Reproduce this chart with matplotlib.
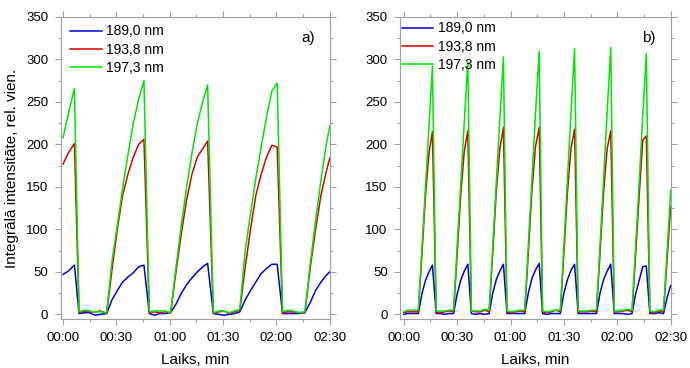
import matplotlib
matplotlib.use("Agg")
import matplotlib.pyplot as plt
from matplotlib.ticker import FuncFormatter, MultipleLocator

plt.rcParams['font.family'] = ['Liberation Sans', 'DejaVu Sans']

labels = ["189,0 nm", "193,8 nm", "197,3 nm"]
colors = ["#0000e6", "#dc0000", "#00e600"]

# panel a) time in seconds
t_a = [0, 3, 6.4, 9, 12, 15, 18, 21, 24.5, 27.5, 30.5, 33.5, 36.5, 39.5, 42.5, 45.5,
       48.5, 51.5, 54.5, 57.5, 60.5, 63.5, 66.5, 69.5, 72.5, 75.5, 78.5, 81.3,
       84.5, 87.5, 90.5, 93.5, 96.5, 99.4, 102.4, 105.4, 108.4, 111.4, 114.4, 117.4, 120.4,
       123.4, 126.4, 129.4, 132.4, 136, 139, 142, 145, 148, 150]
blue_a = [47, 51, 58, 1, 2, 2, -1, 0, 1, 17, 28, 38, 44, 49, 56, 58,
          1, -1, 1, 1, 2, 12, 25, 35, 43, 50, 56, 60,
          1, 0, -1, 0, 1, 3, 17, 28, 38, 48, 54, 59, 59,
          1, 1, 1, 1, 2, 14, 28, 38, 46, 50]
red_a = [177, 190, 201, 2, 4, 3, 3, 4, 1, 52, 100, 140, 165, 185, 200, 206,
         2, 3, 2, 3, 2, 50, 95, 135, 165, 185, 195, 204,
         1, 3, 4, 1, 3, 5, 55, 100, 140, 165, 185, 199, 197,
         2, 3, 3, 2, 2, 55, 100, 140, 168, 184]
green_a = [208, 236, 266, 3, 5, 4, 3, 3, 2, 62, 105, 148, 188, 225, 253, 275,
           3, 4, 4, 4, 2, 55, 105, 150, 190, 225, 250, 270,
           2, 4, 4, 2, 4, 6, 75, 118, 160, 197, 232, 263, 272,
           3, 5, 4, 2, 3, 60, 110, 158, 200, 222]

# panel b)
t_b = [0, 2, 4, 6, 8.2, 10.2, 12.2, 14.2, 16.1,
       18.2, 20.5, 23, 25.5, 28, 30, 32, 34, 36,
       38, 40.5, 43, 45.5, 48, 50, 52, 54, 56,
       58, 60.5, 63, 65.5, 68, 70, 72, 74, 76.1,
       78, 80.5, 83, 85.5, 88, 90, 92, 94, 96,
       98, 100.5, 103, 105.5, 108.3, 110.3, 112.3, 114.3, 116.3,
       118.3, 120.8, 123.3, 125.8, 128.3, 130.3, 132.3, 134.3, 136.3,
       138.3, 140.8, 143.3, 146, 148, 150]
blue_b = [0, 1, 1, 1, 1, 24, 40, 50, 58,
          1, 1, 0, 1, 1, 24, 40, 51, 59,
          1, 0, 1, 0, 1, 25, 41, 51, 59,
          1, 1, 1, 1, 1, 25, 42, 52, 60,
          1, 0, 1, 1, 1, 25, 41, 52, 59,
          1, 1, 1, 1, 1, 25, 41, 51, 59,
          1, 1, 1, 0, 1, 24, 40, 56, 57,
          1, 1, 2, 1, 20, 34]
red_b = [2, 3, 3, 3, 3, 70, 140, 190, 215,
         3, 2, 3, 4, 3, 70, 140, 192, 216,
         4, 3, 3, 5, 3, 72, 145, 195, 220,
         3, 2, 3, 4, 3, 72, 145, 197, 220,
         3, 2, 3, 5, 3, 72, 144, 196, 218,
         3, 3, 3, 4, 3, 72, 144, 195, 216,
         3, 3, 4, 5, 3, 70, 140, 205, 210,
         3, 2, 4, 3, 65, 127]
green_b = [3, 5, 5, 5, 5, 78, 150, 222, 292,
           4, 4, 4, 5, 5, 80, 153, 226, 298,
           4, 4, 4, 6, 5, 80, 155, 230, 303,
           4, 3, 4, 5, 5, 82, 158, 235, 310,
           4, 3, 4, 5, 5, 82, 160, 238, 313,
           4, 4, 4, 5, 5, 82, 160, 238, 314,
           4, 4, 5, 6, 5, 80, 156, 233, 307,
           4, 3, 5, 5, 75, 146]

panels = [
    (t_a, [blue_a, red_a, green_a], "a)", [0.088, 0.133, 0.390, 0.821], -1.3),
    (t_b, [blue_b, red_b, green_b], "b)", [0.580, 0.133, 0.392, 0.821], -2.0),
]


def mmss(v, pos):
    v = int(round(v))
    return "%02d:%02d" % (v // 60, v % 60)


fig = plt.figure(figsize=(6.9, 3.68), dpi=100)
spine_col = "#a0a0a0"

for i, (t, series, tag, rect, x0) in enumerate(panels):
    ax = fig.add_axes(rect)
    for y, lab, c in zip(series, labels, colors):
        ax.plot(t, y, color=c, lw=1.1, label=lab)
    ax.set_xlim(x0, 150)
    ax.set_ylim(-5.5, 350)
    ax.xaxis.set_major_locator(MultipleLocator(30))
    ax.xaxis.set_minor_locator(MultipleLocator(15))
    ax.yaxis.set_major_locator(MultipleLocator(50))
    ax.yaxis.set_minor_locator(MultipleLocator(25))
    ax.xaxis.set_major_formatter(FuncFormatter(mmss))
    for s in ax.spines.values():
        s.set_color(spine_col)
        s.set_linewidth(0.8)
    ax.tick_params(which="both", direction="out", color=spine_col, width=0.8,
                   top=True, right=True, labelsize=9.5, labelcolor="black")
    ax.tick_params(which="major", length=4, pad=5)
    ax.tick_params(which="minor", length=2.5)
    ax.set_xlabel("Laiks, min", fontsize=11, labelpad=7)
    if i == 0:
        ax.set_ylabel("Integrālā intensitāte, rel. vien.", fontsize=11, labelpad=5)
        leg_anchor = (0.035, 0.975)
    else:
        leg_anchor = (0.005, 0.985)
    ax.legend(loc="upper left", bbox_to_anchor=leg_anchor, frameon=False,
              fontsize=10, handlelength=2.3, handletextpad=0.3,
              labelspacing=0.3, borderaxespad=0, borderpad=0)
    ax.text(0.92, 0.93, tag, transform=ax.transAxes, fontsize=11,
            ha="center", va="center")

fig.savefig("out.png", dpi=100)
